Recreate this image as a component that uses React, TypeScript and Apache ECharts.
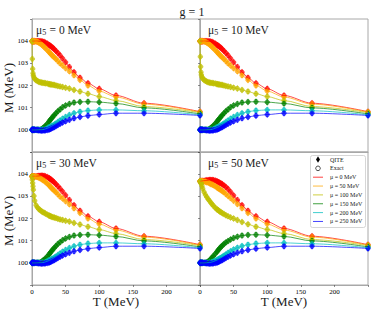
import React, { useEffect, useRef } from "react";
import * as echarts from "echarts";

// Temperature grid (MeV)
const T_VALUES = [0, 0.5, 1, 1.5, 2, 3, 4, 6, 8, 10, 12, 14, 16, 18, 20, 22.5, 25, 26.3, 27.8, 29.4, 31.3, 33.3, 35.7, 38.5, 41.7, 45.5, 50, 55.6, 62.5, 71.4, 83.3, 100, 125, 166.7, 250];

const MU_LABELS = ["μ = 0 MeV", "μ = 50 MeV", "μ = 100 MeV", "μ = 150 MeV", "μ = 200 MeV", "μ = 250 MeV"];
const MU5_VALUES = ["0", "10", "30", "50"];
const X_TICKS = [0, 50, 100, 150, 200];
const Y_TICKS = [100, 101, 102, 103, 104];

// ---- mu5 = 0 MeV ----
const M_MU5_0_MU0 = [104, 104, 104, 104, 104, 104, 104, 104, 104, 104, 104, 103.99, 103.98, 103.96, 103.93, 103.89, 103.84, 103.81, 103.78, 103.74, 103.69, 103.63, 103.56, 103.47, 103.36, 103.22, 103.05, 102.84, 102.6, 102.35, 102.1, 101.85, 101.55, 101.2, 100.82];
const M_MU5_0_MU50 = [104, 104, 104, 104, 104, 104, 104, 103.99, 103.97, 103.94, 103.9, 103.85, 103.8, 103.74, 103.68, 103.6, 103.52, 103.48, 103.43, 103.38, 103.32, 103.26, 103.19, 103.1, 103.0, 102.9, 102.78, 102.64, 102.46, 102.25, 102.0, 101.75, 101.48, 101.16, 100.8];
const M_MU5_0_MU100 = [104, 103.2, 102.75, 102.55, 102.45, 102.36, 102.3, 102.24, 102.2, 102.17, 102.15, 102.13, 102.12, 102.11, 102.1, 102.09, 102.07, 102.06, 102.05, 102.04, 102.03, 102.02, 102.0, 101.98, 101.96, 101.93, 101.9, 101.86, 101.8, 101.73, 101.63, 101.5, 101.32, 101.05, 100.78];
const M_MU5_0_MU150 = [100, 100, 100, 100, 100, 100, 100, 100, 100, 100, 100, 100.03, 100.07, 100.12, 100.18, 100.26, 100.36, 100.41, 100.47, 100.53, 100.6, 100.67, 100.75, 100.84, 100.92, 101.02, 101.1, 101.17, 101.23, 101.26, 101.27, 101.25, 101.19, 100.99, 100.72];
const M_MU5_0_MU200 = [100, 100, 100, 100, 100, 100, 100, 100, 100, 100, 100, 100, 100.01, 100.02, 100.04, 100.07, 100.1, 100.12, 100.14, 100.17, 100.2, 100.24, 100.29, 100.35, 100.42, 100.5, 100.58, 100.67, 100.75, 100.82, 100.87, 100.9, 100.9, 100.86, 100.68];
const M_MU5_0_MU250 = [100, 100, 100, 100, 100, 100, 100, 100, 99.99, 99.98, 99.97, 99.97, 99.97, 99.97, 99.98, 99.99, 100.01, 100.03, 100.05, 100.07, 100.1, 100.13, 100.17, 100.22, 100.27, 100.33, 100.39, 100.45, 100.52, 100.58, 100.64, 100.69, 100.75, 100.75, 100.65];

// ---- mu5 = 10 MeV ----
const M_MU5_10_MU0 = [104, 104, 104, 104, 104, 104, 104, 104, 104, 104, 104, 103.99, 103.98, 103.96, 103.93, 103.89, 103.84, 103.81, 103.78, 103.74, 103.69, 103.63, 103.56, 103.47, 103.36, 103.22, 103.05, 102.84, 102.6, 102.35, 102.1, 101.85, 101.55, 101.2, 100.82];
const M_MU5_10_MU50 = [104, 104, 104, 104, 104, 104, 104, 103.99, 103.97, 103.94, 103.9, 103.85, 103.8, 103.74, 103.68, 103.6, 103.52, 103.48, 103.43, 103.38, 103.32, 103.26, 103.19, 103.1, 103.0, 102.9, 102.78, 102.64, 102.46, 102.25, 102.0, 101.75, 101.48, 101.16, 100.8];
const M_MU5_10_MU100 = [104, 103.3, 102.85, 102.6, 102.48, 102.38, 102.32, 102.25, 102.21, 102.18, 102.15, 102.13, 102.12, 102.11, 102.1, 102.09, 102.07, 102.06, 102.05, 102.04, 102.03, 102.02, 102.0, 101.98, 101.96, 101.93, 101.9, 101.86, 101.8, 101.73, 101.63, 101.5, 101.32, 101.05, 100.78];
const M_MU5_10_MU150 = [100, 100, 100, 100, 100, 100, 100, 100, 100, 100, 100.01, 100.04, 100.08, 100.13, 100.19, 100.27, 100.36, 100.41, 100.47, 100.53, 100.6, 100.67, 100.75, 100.84, 100.92, 101.02, 101.1, 101.17, 101.23, 101.26, 101.27, 101.25, 101.19, 100.99, 100.72];
const M_MU5_10_MU200 = [100, 100, 100, 100, 100, 100, 100, 100, 100, 100, 100, 100, 100.01, 100.02, 100.04, 100.07, 100.1, 100.12, 100.14, 100.17, 100.2, 100.24, 100.29, 100.35, 100.42, 100.5, 100.58, 100.67, 100.75, 100.82, 100.87, 100.9, 100.9, 100.86, 100.68];
const M_MU5_10_MU250 = [100, 100, 100, 100, 100, 100, 100, 100, 99.99, 99.98, 99.97, 99.97, 99.97, 99.97, 99.98, 99.99, 100.01, 100.03, 100.05, 100.07, 100.1, 100.13, 100.17, 100.22, 100.27, 100.33, 100.39, 100.45, 100.52, 100.58, 100.64, 100.69, 100.75, 100.75, 100.65];

// ---- mu5 = 30 MeV ----
const M_MU5_30_MU0 = [103.9, 103.9, 103.9, 103.9, 103.9, 103.9, 103.9, 103.9, 103.91, 103.92, 103.93, 103.93, 103.93, 103.92, 103.9, 103.87, 103.83, 103.8, 103.77, 103.73, 103.68, 103.62, 103.55, 103.46, 103.35, 103.22, 103.05, 102.84, 102.6, 102.35, 102.1, 101.85, 101.55, 101.2, 100.82];
const M_MU5_30_MU50 = [103.9, 103.9, 103.9, 103.9, 103.9, 103.9, 103.9, 103.89, 103.87, 103.85, 103.82, 103.78, 103.74, 103.7, 103.65, 103.58, 103.51, 103.47, 103.42, 103.37, 103.31, 103.25, 103.18, 103.09, 102.99, 102.9, 102.78, 102.64, 102.46, 102.25, 102.0, 101.75, 101.48, 101.16, 100.8];
const M_MU5_30_MU100 = [103.9, 103.75, 103.6, 103.45, 103.3, 103.02, 102.8, 102.6, 102.5, 102.43, 102.38, 102.33, 102.29, 102.26, 102.22, 102.18, 102.14, 102.12, 102.1, 102.08, 102.06, 102.04, 102.02, 101.99, 101.96, 101.93, 101.9, 101.86, 101.8, 101.73, 101.63, 101.5, 101.32, 101.05, 100.78];
const M_MU5_30_MU150 = [100, 100, 100, 100, 100, 100, 100, 100, 100, 100, 100.02, 100.05, 100.09, 100.14, 100.2, 100.28, 100.37, 100.42, 100.48, 100.54, 100.61, 100.68, 100.76, 100.85, 100.93, 101.02, 101.1, 101.17, 101.23, 101.26, 101.27, 101.25, 101.19, 100.99, 100.72];
const M_MU5_30_MU200 = [100, 100, 100, 100, 100, 100, 100, 100, 100, 100, 100, 100, 100.01, 100.02, 100.04, 100.07, 100.1, 100.12, 100.14, 100.17, 100.2, 100.24, 100.29, 100.35, 100.42, 100.5, 100.58, 100.67, 100.75, 100.82, 100.87, 100.9, 100.9, 100.86, 100.68];
const M_MU5_30_MU250 = [100, 100, 100, 100, 100, 100, 100, 100, 99.99, 99.98, 99.97, 99.97, 99.97, 99.97, 99.98, 99.99, 100.01, 100.03, 100.05, 100.07, 100.1, 100.13, 100.17, 100.22, 100.27, 100.33, 100.39, 100.45, 100.52, 100.58, 100.64, 100.69, 100.75, 100.75, 100.65];

// ---- mu5 = 50 MeV ----
const M_MU5_50_MU0 = [103.68, 103.68, 103.68, 103.68, 103.68, 103.69, 103.69, 103.7, 103.71, 103.72, 103.73, 103.74, 103.74, 103.74, 103.73, 103.71, 103.68, 103.66, 103.64, 103.61, 103.58, 103.54, 103.49, 103.42, 103.33, 103.2, 103.04, 102.84, 102.6, 102.35, 102.1, 101.85, 101.55, 101.2, 100.82];
const M_MU5_50_MU50 = [103.68, 103.68, 103.68, 103.68, 103.68, 103.68, 103.68, 103.67, 103.66, 103.64, 103.62, 103.59, 103.56, 103.53, 103.5, 103.46, 103.41, 103.38, 103.35, 103.32, 103.28, 103.23, 103.18, 103.1, 103.02, 102.92, 102.8, 102.65, 102.46, 102.25, 102.0, 101.75, 101.48, 101.16, 100.8];
const M_MU5_50_MU100 = [103.68, 103.66, 103.63, 103.6, 103.56, 103.46, 103.35, 103.2, 103.07, 102.97, 102.88, 102.8, 102.72, 102.64, 102.57, 102.49, 102.42, 102.39, 102.36, 102.32, 102.28, 102.24, 102.2, 102.15, 102.1, 102.05, 102.0, 101.93, 101.84, 101.74, 101.63, 101.5, 101.32, 101.05, 100.78];
const M_MU5_50_MU150 = [100, 100, 100, 100, 100, 100, 100, 100, 100, 100.02, 100.06, 100.11, 100.17, 100.24, 100.31, 100.4, 100.49, 100.54, 100.6, 100.66, 100.72, 100.78, 100.85, 100.92, 100.98, 101.05, 101.12, 101.18, 101.23, 101.26, 101.27, 101.25, 101.19, 100.99, 100.72];
const M_MU5_50_MU200 = [100, 100, 100, 100, 100, 100, 100, 100, 100, 100, 100, 100.01, 100.02, 100.04, 100.06, 100.09, 100.12, 100.14, 100.17, 100.2, 100.23, 100.27, 100.32, 100.38, 100.45, 100.52, 100.6, 100.68, 100.76, 100.82, 100.87, 100.9, 100.9, 100.86, 100.68];
const M_MU5_50_MU250 = [100, 100, 100, 100, 100, 100, 100, 100, 99.99, 99.98, 99.97, 99.97, 99.97, 99.97, 99.98, 99.99, 100.01, 100.03, 100.05, 100.07, 100.1, 100.13, 100.17, 100.22, 100.27, 100.33, 100.39, 100.45, 100.52, 100.58, 100.64, 100.69, 100.75, 100.75, 100.65];

const PANELS = [
  [M_MU5_0_MU0, M_MU5_0_MU50, M_MU5_0_MU100, M_MU5_0_MU150, M_MU5_0_MU200, M_MU5_0_MU250],
  [M_MU5_10_MU0, M_MU5_10_MU50, M_MU5_10_MU100, M_MU5_10_MU150, M_MU5_10_MU200, M_MU5_10_MU250],
  [M_MU5_30_MU0, M_MU5_30_MU50, M_MU5_30_MU100, M_MU5_30_MU150, M_MU5_30_MU200, M_MU5_30_MU250],
  [M_MU5_50_MU0, M_MU5_50_MU50, M_MU5_50_MU100, M_MU5_50_MU150, M_MU5_50_MU200, M_MU5_50_MU250],
];

const COLORS = ["#ff0000", "#ffa500", "#bfbf00", "#008000", "#00bfbf", "#0000ff"];
const FONT = "Liberation Serif";
const SPINE = "#a8a8a8";

const GRID_LAYOUT = [
  { left: 32, top: 19, width: 168, height: 133 },
  { left: 200, top: 19, width: 168, height: 133 },
  { left: 32, top: 152, width: 168, height: 133 },
  { left: 200, top: 152, width: 168, height: 133 },
];

function txt(text: string, x: number, y: number, size: number, align: string, extra: any = {}) {
  return {
    type: "text",
    x,
    y,
    ...extra,
    style: {
      text,
      fontSize: size,
      fontFamily: FONT,
      fontWeight: "normal",
      fill: "#1a1a1a",
      align,
      verticalAlign: "middle",
    },
  };
}

function buildOption() {
  const grid = GRID_LAYOUT.map((g) => ({ ...g, show: true, borderColor: SPINE, borderWidth: 1, backgroundColor: "transparent" }));
  const xAxis = GRID_LAYOUT.map((_, p) => ({
    gridIndex: p,
    type: "value",
    min: 0,
    max: 250,
    interval: 50,
    axisLine: { show: true, lineStyle: { color: SPINE, width: 1 } },
    axisTick: { show: p >= 2, length: 2, lineStyle: { color: "#444", width: 0.6 } },
    splitLine: { show: false },
    axisLabel: {
      show: p >= 2,
      fontSize: 7,
      fontFamily: FONT,
      fontWeight: "normal",
      color: "#000",
      margin: 3,
      formatter: (v: number) => (X_TICKS.includes(v) ? String(v) : ""),
    },
  }));
  const yAxis = GRID_LAYOUT.map((_, p) => ({
    gridIndex: p,
    type: "value",
    min: 99,
    max: 105,
    interval: 1,
    axisLine: { show: true, lineStyle: { color: SPINE, width: 1 } },
    axisTick: { show: true, length: 2, lineStyle: { color: "#444", width: 0.6 } },
    splitLine: { show: false },
    axisLabel: {
      show: p % 2 === 0,
      fontSize: 7,
      fontFamily: FONT,
      fontWeight: "normal",
      color: "#000",
      margin: 4,
      formatter: (v: number) => (Y_TICKS.includes(v) ? String(v) : ""),
    },
  }));

  const series: any[] = [];
  PANELS.forEach((curves, p) => {
    curves.forEach((vals, i) => {
      const pts = T_VALUES.map((t, k) => [t, vals[k]]);
      series.push({
        type: "line",
        name: MU_LABELS[i],
        xAxisIndex: p,
        yAxisIndex: p,
        data: pts,
        symbol: "none",
        smooth: 0.3,
        smoothMonotone: "x",
        lineStyle: { color: COLORS[i], width: 1, opacity: 0.7 },
        silent: true,
      });
      series.push({
        type: "scatter",
        name: "Exact",
        xAxisIndex: p,
        yAxisIndex: p,
        data: pts,
        symbol: "circle",
        symbolSize: 4.5,
        itemStyle: { color: "rgba(0,0,0,0)", borderColor: COLORS[i], borderWidth: 0.8 },
        silent: true,
      });
      series.push({
        type: "scatter",
        name: "QITE",
        xAxisIndex: p,
        yAxisIndex: p,
        data: pts,
        symbol: "diamond",
        symbolSize: [4.5, 7],
        itemStyle: { color: COLORS[i] },
        silent: true,
      });
    });
  });

  const graphic: any[] = [];
  graphic.push({ ...txt("g = 1", 192, 11.5, 12, "center"), z: 100 });
  const labelPos = [
    [36, 29.5],
    [208, 29.5],
    [36, 162.5],
    [208, 162.5],
  ];
  MU5_VALUES.forEach((v, p) => {
    graphic.push({
      type: "text",
      x: labelPos[p][0],
      y: labelPos[p][1],
      z: 100,
      style: {
        text: `{a|μ}{s|5}{a| = ${v} MeV}`,
        align: "left",
        verticalAlign: "middle",
        rich: {
          a: { fontSize: 11.5, fontFamily: FONT, fill: "#1a1a1a", lineHeight: 13, verticalAlign: "middle" },
          s: { fontSize: 8, fontFamily: FONT, fill: "#1a1a1a", lineHeight: 8, verticalAlign: "bottom", padding: [0, 0.5, 0, 0] },
        },
      },
    });
  });
  [88, 221].forEach((cy) => {
    graphic.push({ ...txt("M (MeV)", 8, cy, 13, "center", { rotation: Math.PI / 2 }), z: 100 });
  });
  [116, 284].forEach((cx) => {
    graphic.push({ ...txt("T (MeV)", cx, 301.5, 13, "center"), z: 100 });
  });

  // legend
  const lx = 318;
  const tx = 330;
  const y0 = 159.5;
  const dy = 8.85;
  const legendChildren: any[] = [
    {
      type: "rect",
      shape: { x: 310.5, y: 155.5, width: 55, height: 72, r: 2 },
      style: { fill: "rgba(255,255,255,0.85)", stroke: "#cccccc", lineWidth: 0.8 },
    },
    {
      type: "polygon",
      shape: { points: [[lx, y0 - 3.2], [lx + 2, y0], [lx, y0 + 3.2], [lx - 2, y0]] },
      style: { fill: "#000" },
    },
    txt("QITE", tx, y0, 6, "left"),
    {
      type: "circle",
      shape: { cx: lx, cy: y0 + dy, r: 2.3 },
      style: { fill: "none", stroke: "#000", lineWidth: 0.7 },
    },
    txt("Exact", tx, y0 + dy, 6, "left"),
  ];
  MU_LABELS.forEach((t, i) => {
    const yy = y0 + dy * (i + 2);
    legendChildren.push({
      type: "line",
      shape: { x1: 313, y1: yy, x2: 323, y2: yy },
      style: { stroke: COLORS[i], lineWidth: 1, opacity: 0.75 },
    });
    legendChildren.push(txt(t, tx, yy, 6, "left"));
  });
  graphic.push({ type: "group", children: legendChildren, z: 110 });

  return {
    animation: false,
    backgroundColor: "#ffffff",
    textStyle: { fontFamily: FONT },
    grid,
    xAxis,
    yAxis,
    series,
    graphic,
  };
}

export default function App() {
  const ref = useRef<HTMLDivElement>(null);
  useEffect(() => {
    if (!ref.current) return;
    const chart = echarts.init(ref.current, undefined, { renderer: "svg" });
    chart.setOption(buildOption() as any);
    return () => chart.dispose();
  }, []);
  return <div ref={ref} style={{ position: "absolute", left: 0, top: 0, width: 389, height: 309 }} />;
}
